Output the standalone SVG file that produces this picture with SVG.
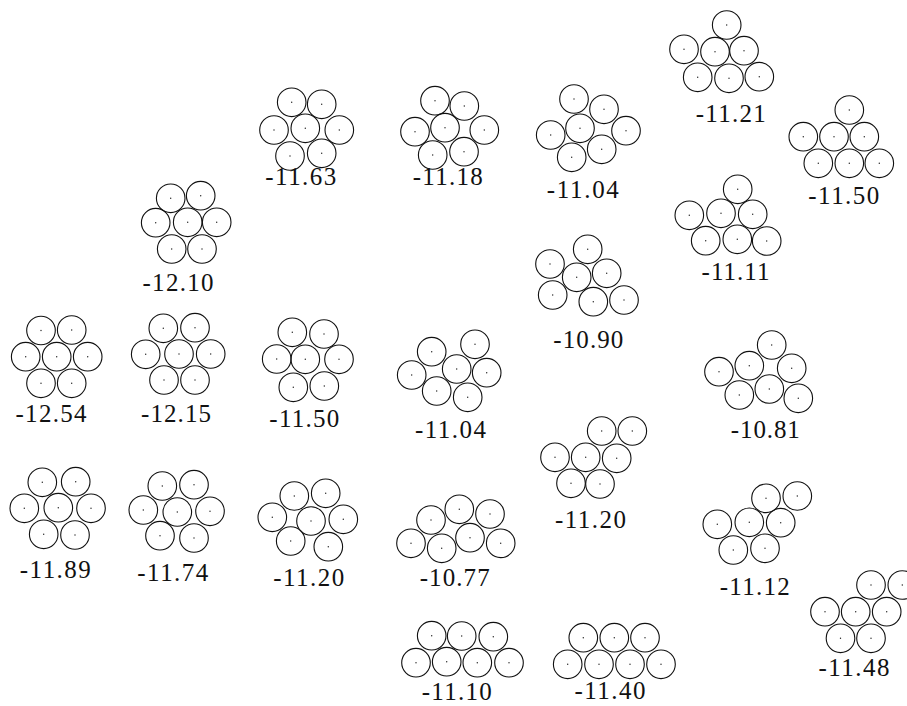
<svg xmlns="http://www.w3.org/2000/svg" xmlns:xlink="http://www.w3.org/1999/xlink" width="907" height="706" viewBox="0 0 907 706">
<style>
.ring{fill:none;stroke:#111;stroke-width:1.1}
.dot{fill:#222}
.lbl{font-family:"Liberation Serif","Times New Roman",serif;font-size:25px;fill:#111;text-anchor:middle}
</style>
<defs>
<g id="disk"><circle class="ring" r="14.3"/><circle class="dot" r="0.7"/></g>
</defs>
<rect width="907" height="706" fill="#fff"/>
<g id="c1254">
<use href="#disk" x="41" y="330.5"/><use href="#disk" x="71.7" y="330"/><use href="#disk" x="25.7" y="356.7"/><use href="#disk" x="56.7" y="356.7"/><use href="#disk" x="87.7" y="356.7"/><use href="#disk" x="41" y="383.3"/><use href="#disk" x="71.7" y="383.3"/>
<text class="lbl" x="51" y="421.7" textLength="71" lengthAdjust="spacing">-12.54</text>
</g>
<g id="c1215">
<use href="#disk" x="163.3" y="328.3"/><use href="#disk" x="195" y="327.7"/><use href="#disk" x="145.7" y="354.3"/><use href="#disk" x="179" y="354"/><use href="#disk" x="210.7" y="354"/><use href="#disk" x="164" y="380"/><use href="#disk" x="195" y="380"/>
<text class="lbl" x="176" y="421.7" textLength="70" lengthAdjust="spacing">-12.15</text>
</g>
<g id="c1189">
<use href="#disk" x="42.3" y="482.3"/><use href="#disk" x="75.7" y="481.7"/><use href="#disk" x="24.3" y="508.3"/><use href="#disk" x="58.3" y="507.7"/><use href="#disk" x="91" y="508.3"/><use href="#disk" x="43.7" y="534.3"/><use href="#disk" x="75" y="535"/>
<text class="lbl" x="55.3" y="578.3" textLength="71" lengthAdjust="spacing">-11.89</text>
</g>
<g id="c1174">
<use href="#disk" x="162.3" y="486"/><use href="#disk" x="194" y="484.7"/><use href="#disk" x="143.3" y="510"/><use href="#disk" x="177.3" y="512"/><use href="#disk" x="210" y="511.3"/><use href="#disk" x="160" y="535.7"/><use href="#disk" x="194" y="538"/>
<text class="lbl" x="172.8" y="580.7" textLength="71" lengthAdjust="spacing">-11.74</text>
</g>
<g id="c1210">
<use href="#disk" x="170.7" y="198.3"/><use href="#disk" x="200.7" y="195.7"/><use href="#disk" x="155.7" y="222.7"/><use href="#disk" x="187.7" y="222.3"/><use href="#disk" x="216.7" y="222.3"/><use href="#disk" x="171.7" y="249"/><use href="#disk" x="202" y="249"/>
<text class="lbl" x="178" y="291" textLength="71" lengthAdjust="spacing">-12.10</text>
</g>
<g id="c1163">
<use href="#disk" x="291.7" y="102.3"/><use href="#disk" x="321.7" y="104.3"/><use href="#disk" x="274" y="130"/><use href="#disk" x="305.3" y="128.3"/><use href="#disk" x="339.3" y="130"/><use href="#disk" x="290" y="156"/><use href="#disk" x="321.7" y="153.3"/>
<text class="lbl" x="300.8" y="185" textLength="71" lengthAdjust="spacing">-11.63</text>
</g>
<g id="c1118">
<use href="#disk" x="435" y="100.7"/><use href="#disk" x="464.3" y="106"/><use href="#disk" x="415" y="131.7"/><use href="#disk" x="445" y="127.7"/><use href="#disk" x="484.3" y="130"/><use href="#disk" x="432.7" y="155"/><use href="#disk" x="464" y="151.7"/>
<text class="lbl" x="447.7" y="185" textLength="70" lengthAdjust="spacing">-11.18</text>
</g>
<g id="c1104a">
<use href="#disk" x="574" y="99"/><use href="#disk" x="604" y="109.3"/><use href="#disk" x="550.7" y="135"/><use href="#disk" x="580" y="128.3"/><use href="#disk" x="626" y="130.7"/><use href="#disk" x="571.7" y="157.3"/><use href="#disk" x="601.7" y="149.3"/>
<text class="lbl" x="582.8" y="198.3" textLength="72" lengthAdjust="spacing">-11.04</text>
</g>
<g id="c1121">
<use href="#disk" x="726.7" y="25"/><use href="#disk" x="684" y="49.3"/><use href="#disk" x="715" y="51.7"/><use href="#disk" x="744" y="50.7"/><use href="#disk" x="697.7" y="77.3"/><use href="#disk" x="729" y="78.3"/><use href="#disk" x="759.3" y="76.7"/>
<text class="lbl" x="730.7" y="121.7" textLength="70" lengthAdjust="spacing">-11.21</text>
</g>
<g id="c1150a">
<use href="#disk" x="849.3" y="110"/><use href="#disk" x="803.3" y="136.7"/><use href="#disk" x="834" y="136.7"/><use href="#disk" x="864.3" y="136.7"/><use href="#disk" x="818.3" y="163.3"/><use href="#disk" x="849.3" y="163.3"/><use href="#disk" x="879.3" y="163.3"/>
<text class="lbl" x="843.8" y="204" textLength="71" lengthAdjust="spacing">-11.50</text>
</g>
<g id="c1111">
<use href="#disk" x="737.7" y="189.3"/><use href="#disk" x="689.3" y="215.3"/><use href="#disk" x="721" y="213.3"/><use href="#disk" x="752.7" y="214.3"/><use href="#disk" x="705.7" y="240.7"/><use href="#disk" x="737.3" y="239.3"/><use href="#disk" x="766.7" y="241"/>
<text class="lbl" x="735.5" y="280" textLength="68" lengthAdjust="spacing">-11.11</text>
</g>
<g id="c1090">
<use href="#disk" x="587.7" y="249.3"/><use href="#disk" x="550" y="264"/><use href="#disk" x="576.7" y="277.3"/><use href="#disk" x="606.7" y="273.3"/><use href="#disk" x="552.7" y="295"/><use href="#disk" x="593.3" y="301.7"/><use href="#disk" x="624" y="300"/>
<text class="lbl" x="588.3" y="348.3" textLength="70" lengthAdjust="spacing">-10.90</text>
</g>
<g id="c1150b">
<use href="#disk" x="292.3" y="332.3"/><use href="#disk" x="324" y="334"/><use href="#disk" x="276.7" y="359"/><use href="#disk" x="305.3" y="359.3"/><use href="#disk" x="339" y="359.3"/><use href="#disk" x="293.3" y="387.3"/><use href="#disk" x="324.3" y="386"/>
<text class="lbl" x="304.3" y="426.7" textLength="70" lengthAdjust="spacing">-11.50</text>
</g>
<g id="c1104b">
<use href="#disk" x="431.7" y="351.7"/><use href="#disk" x="475" y="344.3"/><use href="#disk" x="411.7" y="375"/><use href="#disk" x="456.7" y="369"/><use href="#disk" x="486.7" y="372.7"/><use href="#disk" x="436.7" y="391"/><use href="#disk" x="467.7" y="397.3"/>
<text class="lbl" x="450.5" y="438.3" textLength="71" lengthAdjust="spacing">-11.04</text>
</g>
<g id="c1081">
<use href="#disk" x="771.7" y="345"/><use href="#disk" x="719" y="371.7"/><use href="#disk" x="749.3" y="365.7"/><use href="#disk" x="791.7" y="368.3"/><use href="#disk" x="739.3" y="395"/><use href="#disk" x="769.3" y="389"/><use href="#disk" x="798.3" y="398.3"/>
<text class="lbl" x="765.3" y="438.3" textLength="69" lengthAdjust="spacing">-10.81</text>
</g>
<g id="c1120a">
<use href="#disk" x="601.7" y="431"/><use href="#disk" x="632.3" y="431"/><use href="#disk" x="555" y="457.3"/><use href="#disk" x="585.7" y="457.3"/><use href="#disk" x="616.7" y="458.3"/><use href="#disk" x="571" y="483.3"/><use href="#disk" x="600" y="484"/>
<text class="lbl" x="590.5" y="528.3" textLength="71" lengthAdjust="spacing">-11.20</text>
</g>
<g id="c1120b">
<use href="#disk" x="294.3" y="496"/><use href="#disk" x="325.7" y="493.3"/><use href="#disk" x="272.3" y="517.3"/><use href="#disk" x="311" y="521"/><use href="#disk" x="343.3" y="519.3"/><use href="#disk" x="290.7" y="541"/><use href="#disk" x="328.3" y="546.7"/>
<text class="lbl" x="308.7" y="586" textLength="71" lengthAdjust="spacing">-11.20</text>
</g>
<g id="c1077">
<use href="#disk" x="431" y="520"/><use href="#disk" x="459.3" y="509.3"/><use href="#disk" x="490" y="514"/><use href="#disk" x="411" y="543.3"/><use href="#disk" x="441.7" y="548.3"/><use href="#disk" x="470" y="537.7"/><use href="#disk" x="500.7" y="543.3"/>
<text class="lbl" x="454.7" y="586" textLength="70" lengthAdjust="spacing">-10.77</text>
</g>
<g id="c1112">
<use href="#disk" x="766" y="498.3"/><use href="#disk" x="797.3" y="496"/><use href="#disk" x="717.3" y="524.3"/><use href="#disk" x="749.3" y="522.3"/><use href="#disk" x="780.7" y="522.7"/><use href="#disk" x="733.3" y="550"/><use href="#disk" x="765" y="548.3"/>
<text class="lbl" x="754.7" y="595" textLength="70" lengthAdjust="spacing">-11.12</text>
</g>
<g id="c1148">
<use href="#disk" x="871" y="585"/><use href="#disk" x="902.3" y="585"/><use href="#disk" x="825" y="611.7"/><use href="#disk" x="855.7" y="611.7"/><use href="#disk" x="886.7" y="611.7"/><use href="#disk" x="840.5" y="638.3"/><use href="#disk" x="871" y="638.3"/>
<text class="lbl" x="854" y="676" textLength="71" lengthAdjust="spacing">-11.48</text>
</g>
<g id="c1110">
<use href="#disk" x="431.7" y="635.7"/><use href="#disk" x="461.7" y="636"/><use href="#disk" x="493.3" y="636.7"/><use href="#disk" x="416" y="662.7"/><use href="#disk" x="446.7" y="661.7"/><use href="#disk" x="477.3" y="662.7"/><use href="#disk" x="509" y="662.7"/>
<text class="lbl" x="456.7" y="700" textLength="70" lengthAdjust="spacing">-11.10</text>
</g>
<g id="c1140">
<use href="#disk" x="583.3" y="637.7"/><use href="#disk" x="614.3" y="637.7"/><use href="#disk" x="645" y="637.7"/><use href="#disk" x="567.7" y="664.3"/><use href="#disk" x="599" y="664.3"/><use href="#disk" x="630" y="664.3"/><use href="#disk" x="661" y="664.3"/>
<text class="lbl" x="610" y="699" textLength="71" lengthAdjust="spacing">-11.40</text>
</g>
</svg>
